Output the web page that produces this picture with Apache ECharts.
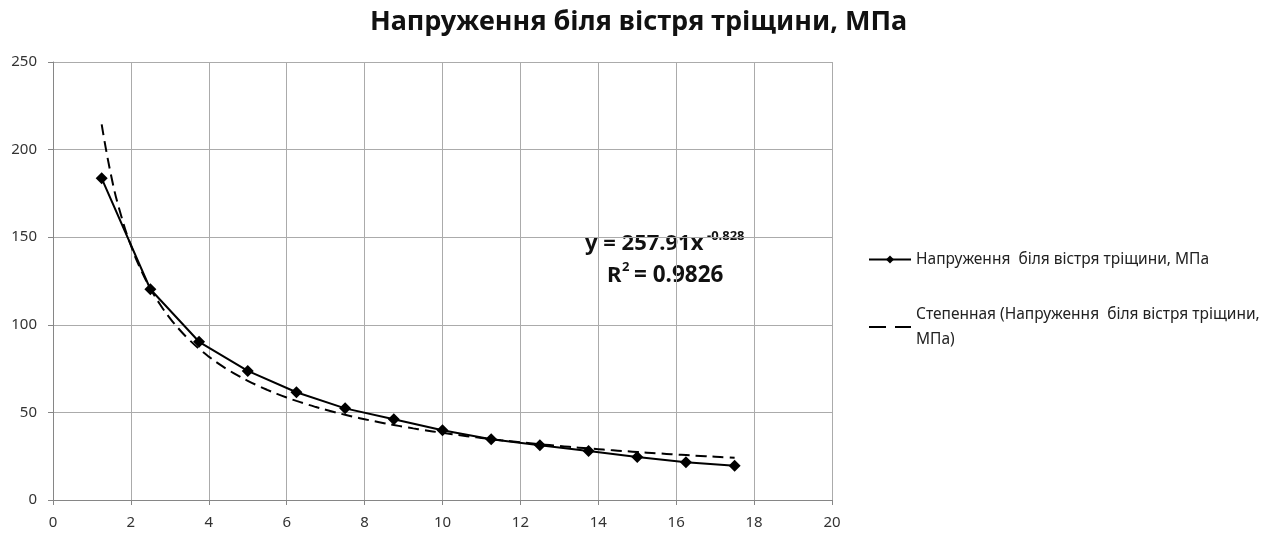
<!DOCTYPE html>
<html>
<head>
<meta charset="utf-8">
<style>
  html, body { margin: 0; padding: 0; background: #fff; }
  #chart { width: 1277px; height: 535px; }
</style>
<script src="https://cdn.jsdelivr.net/npm/echarts@6/dist/echarts.min.js"></script>
</head>
<body>
<div id="chart"></div>
<script>
// Distance from the crack tip and measured stress near the tip
const distance = [1.25, 2.5, 3.75, 5, 6.25, 7.5, 8.75, 10, 11.25, 12.5, 13.75, 15, 16.25, 17.5];
const stress = [183.6, 120.3, 90.3, 73.7, 61.5, 52.3, 46.1, 39.8, 34.7, 31.2, 28.0, 24.6, 21.6, 19.5];

// Power-law trendline coefficients, as printed in the equation label
const fitCoef = 257.91;
const fitExp = -0.828;
const fitR2 = 0.9826;

const xTicks = [0, 2, 4, 6, 8, 10, 12, 14, 16, 18, 20];
const yTicks = [0, 50, 100, 150, 200, 250];

const seriesName = 'Напруження  біля вістря тріщини, МПа';
const trendName = 'Степенная (Напруження  біля вістря тріщини, МПа)';
const titleText = 'Напруження біля вістря тріщини, МПа';

// Trendline sampled along the measured range
const trend = [];
for (let x = distance[0]; x <= distance[distance.length - 1] + 1e-9; x += 0.25) {
  trend.push([x, fitCoef * Math.pow(x, fitExp)]);
}

const font = 'Noto Sans, DejaVu Sans, sans-serif';
const ink = '#111';
const chart = echarts.init(document.getElementById('chart'), null, { renderer: 'canvas' });

function eqText(text, x, y, size) {
  return {
    type: 'text',
    x: x,
    y: y,
    style: {
      text: text,
      align: 'left',
      verticalAlign: 'middle',
      fontFamily: font,
      fontWeight: 'bold',
      fontSize: size,
      fill: ink
    }
  };
}

chart.setOption({
  backgroundColor: '#ffffff',
  animation: false,
  title: {
    text: titleText,
    left: 'center',
    top: 4,
    textStyle: { fontFamily: font, fontWeight: 'bold', fontSize: 27, color: ink }
  },
  grid: { left: 53, right: 445, top: 62, bottom: 35 },
  xAxis: {
    type: 'value',
    min: xTicks[0],
    max: xTicks[xTicks.length - 1],
    interval: 2,
    axisLine: { show: true, lineStyle: { color: '#868686', width: 1 } },
    axisTick: { show: true, length: 5, lineStyle: { color: '#868686' } },
    axisLabel: { fontFamily: font, fontSize: 15, color: '#333', margin: 15 },
    splitLine: { show: true, lineStyle: { color: '#ababab', width: 1 } }
  },
  yAxis: {
    type: 'value',
    min: yTicks[0],
    max: yTicks[yTicks.length - 1],
    interval: 50,
    axisLine: { show: true, lineStyle: { color: '#868686', width: 1 } },
    axisTick: { show: true, length: 5, lineStyle: { color: '#868686' } },
    axisLabel: { fontFamily: font, fontSize: 15, color: '#333', margin: 16 },
    splitLine: { show: true, lineStyle: { color: '#ababab', width: 1 } }
  },
  legend: {
    orient: 'vertical',
    left: 863,
    top: 242,
    itemWidth: 42,
    itemHeight: 10,
    itemGap: 30,
    textStyle: { fontFamily: font, fontSize: 15.5, color: '#222', lineHeight: 25 },
    formatter: function (name) {
      return name === trendName
        ? 'Степенная (Напруження  біля вістря тріщини,\nМПа)'
        : name;
    },
    data: [
      { name: seriesName },
      { name: trendName, itemStyle: { opacity: 0 }, lineStyle: { type: [17, 9] } }
    ]
  },
  graphic: [
    eqText('y = ' + fitCoef + 'x', 585, 244, 22),
    eqText(String(fitExp), 707, 236, 13),
    eqText('R', 607, 276, 22),
    eqText('2', 622, 267, 13),
    eqText('= ' + fitR2, 634, 276, 22.5)
  ],
  series: [
    {
      name: seriesName,
      type: 'line',
      data: distance.map((x, i) => [x, stress[i]]),
      symbol: 'diamond',
      symbolSize: 12,
      lineStyle: { color: '#000', width: 2 },
      itemStyle: { color: '#000' },
      z: 3
    },
    {
      name: trendName,
      type: 'line',
      data: trend,
      symbol: 'none',
      smooth: true,
      lineStyle: { color: '#000', width: 2, type: [11, 6] },
      itemStyle: { color: '#000' },
      z: 2
    }
  ]
});
</script>
</body>
</html>
